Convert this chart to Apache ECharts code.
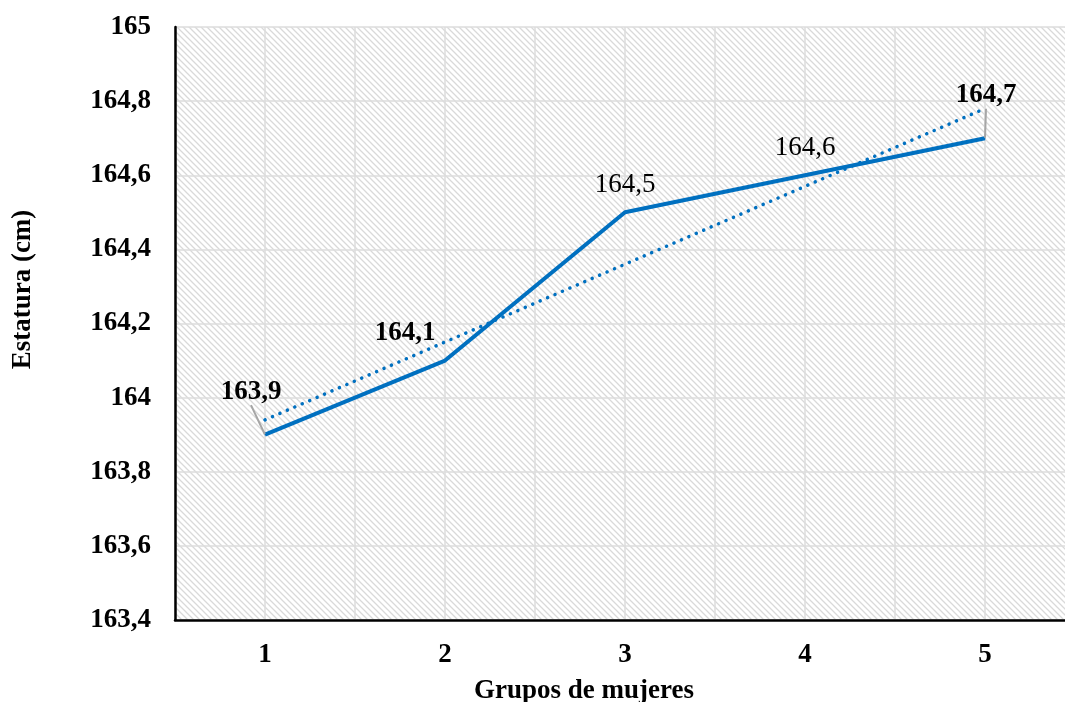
<!DOCTYPE html>
<html>
<head>
<meta charset="utf-8">
<script src="https://cdn.jsdelivr.net/npm/echarts@6/dist/echarts.min.js"></script>
<style>html,body{margin:0;padding:0;background:#fff}#c{width:1065px;height:702px}</style>
</head>
<body>
<div id="c"></div>
<script>
// ---- data ----
const groups = [1, 2, 3, 4, 5];
const heights = [163.9, 164.1, 164.5, 164.6, 164.7];
const trendValues = [163.94, 164.15, 164.36, 164.57, 164.78];
const boldLabel = [true, true, false, false, true];
const xTitle = 'Grupos de mujeres';
const yTitle = 'Estatura (cm)';

// ---- styling ----
const FONT = '"Liberation Serif", "Times New Roman", serif';
const BLUE = '#0070C0';
const labelOffsets = [[-14, -43], [-40, -28], [0, -27], [0, -27], [1, -43]];
const useLeader = [true, false, false, false, true];

function hatch() {
  const c = document.createElement('canvas');
  c.width = 6; c.height = 6;
  const g = c.getContext('2d');
  g.fillStyle = '#ffffff'; g.fillRect(0, 0, 6, 6);
  g.strokeStyle = '#d9d9d9'; g.lineWidth = 1.3;
  g.beginPath();
  g.moveTo(-6, -6); g.lineTo(12, 12);
  g.moveTo(-12, -6); g.lineTo(6, 12);
  g.moveTo(0, -6); g.lineTo(18, 12);
  g.moveTo(-6, 0); g.lineTo(6, 12);
  g.moveTo(0, -12); g.lineTo(18, 6);
  g.stroke();
  return c;
}

const fmt = v => String(+(+v).toFixed(1)).replace('.', ',');

const mainData = groups.map((g, i) => ({
  value: [g, heights[i]],
  label: { fontWeight: boldLabel[i] ? 'bold' : 'normal' },
  labelLine: { show: useLeader[i] }
}));

const chart = echarts.init(document.getElementById('c'), null, { renderer: 'canvas' });
chart.setOption({
  animation: false,
  backgroundColor: '#ffffff',
  grid: {
    left: 175, width: 900, top: 27, bottom: 82,
    outerBoundsMode: 'none',
    containLabel: false,
    show: true,
    borderWidth: 0,
    backgroundColor: { image: hatch(), repeat: 'repeat' }
  },
  xAxis: {
    type: 'value',
    min: 0.5, max: 5.5, interval: 0.5,
    name: xTitle,
    nameLocation: 'middle',
    nameGap: 58,
    nameTextStyle: { fontFamily: FONT, fontSize: 27, fontWeight: 'bold', color: '#000', padding: [0, 82, 0, 0] },
    axisLine: { show: true, lineStyle: { color: '#000', width: 2.5 } },
    axisTick: { show: false },
    axisLabel: {
      margin: 22,
      fontFamily: FONT, fontSize: 27, fontWeight: 'bold', color: '#000',
      formatter: v => (groups.indexOf(v) >= 0 ? String(v) : '')
    },
    splitLine: { show: true, lineStyle: { color: '#dcdcdc', width: 1.5 } }
  },
  yAxis: {
    type: 'value',
    min: 163.4, max: 165, interval: 0.2,
    name: yTitle,
    nameLocation: 'middle',
    nameRotate: 90,
    nameGap: 138,
    nameTextStyle: { fontFamily: FONT, fontSize: 27, fontWeight: 'bold', color: '#000', padding: [0, 0, 0, 68] },
    axisLine: { show: true, lineStyle: { color: '#000', width: 2.5 } },
    axisTick: { show: false },
    axisLabel: {
      margin: 24,
      fontFamily: FONT, fontSize: 27, fontWeight: 'bold', color: '#000',
      formatter: fmt
    },
    splitLine: { show: true, lineStyle: { color: '#dcdcdc', width: 1.5 } }
  },
  series: [
    {
      type: 'line',
      data: trendValues.map((v, i) => [groups[i], v]),
      symbol: 'none',
      lineStyle: { color: BLUE, width: 3.5, type: [0.1, 8], cap: 'round' },
      silent: true,
      z: 2
    },
    {
      type: 'line',
      data: mainData,
      symbol: 'circle',
      symbolSize: 1,
      showSymbol: true,
      itemStyle: { color: BLUE },
      lineStyle: { color: BLUE, width: 4 },
      z: 3,
      label: {
        show: true,
        position: 'inside',
        fontFamily: FONT,
        fontSize: 27,
        color: '#000',
        padding: [2, 2, 6, 2],
        formatter: p => fmt(p.value[1])
      },
      labelLine: { show: true, lineStyle: { color: '#a6a6a6', width: 2 } },
      labelLayout: p => ({ dx: labelOffsets[p.dataIndex][0], dy: labelOffsets[p.dataIndex][1] })
    }
  ]
});
</script>
</body>
</html>
